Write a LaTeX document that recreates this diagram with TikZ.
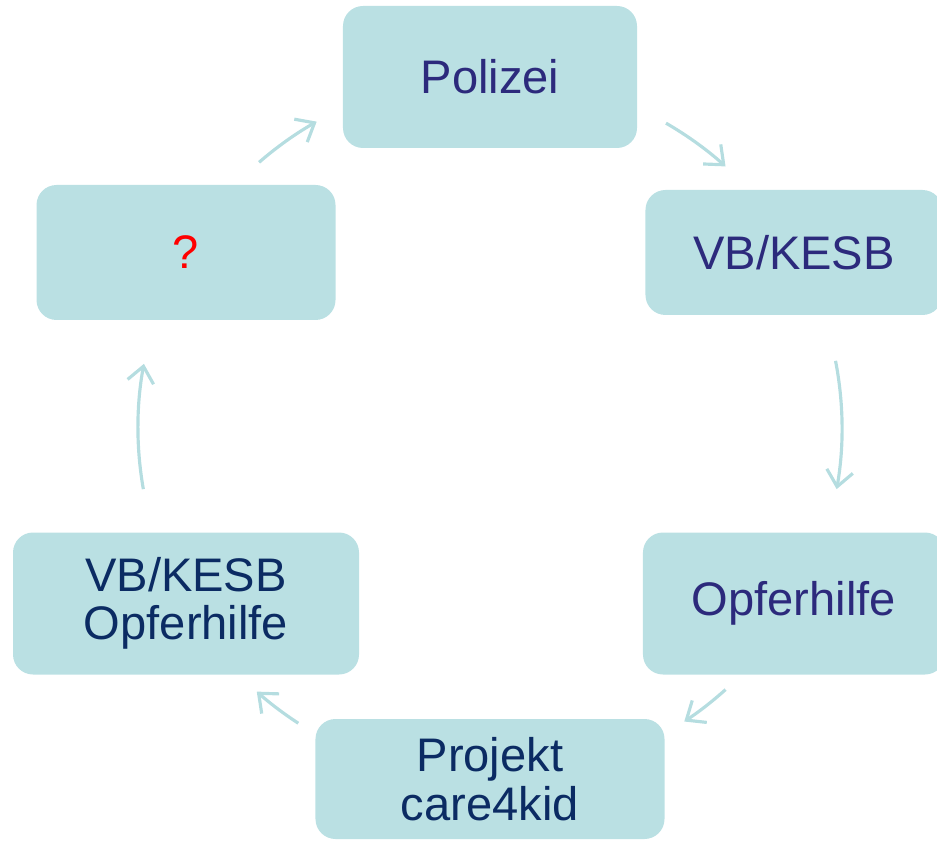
\documentclass[tikz,border=0pt]{standalone}
\usepackage{fontspec}
\setmainfont{Liberation Sans}
\usepackage{xcolor}
\usetikzlibrary{arrows.meta}

\definecolor{boxfill}{HTML}{BAE0E3}
\definecolor{arrowcol}{HTML}{B5DDE0}
\definecolor{textpurple}{HTML}{2C2A7C}
\definecolor{textnavy}{HTML}{0B2B63}

\tikzset{
  stagebox/.style={fill=boxfill, rounded corners=0.4cm, align=center,
    font=\fontsize{26.8}{27.5}\selectfont, inner sep=0pt},
  cyclearrow/.style={draw=arrowcol, line width=1.8pt,
    -{Straight Barb[length=9pt,width=15pt,line width=1.8pt]}}
}

\begin{document}
\begin{tikzpicture}
            \useasboundingbox (-9.80,8.56) rectangle (8.94,-8.24);
            \def \radius {7.04cm}
            \def \noderad {7.02cm}

            \node[stagebox, text=textpurple, minimum width=5.88cm, minimum height=2.84cm]
              (pol) at (90:\noderad) {Polizei};
            \node[stagebox, text=textpurple, minimum width=5.94cm, minimum height=2.5cm]
              (vb) at (30:\noderad) {VB/KESB};
            \node[stagebox, text=textpurple, minimum width=6.04cm, minimum height=2.84cm]
              (opf) at (-30:\noderad) {Opferhilfe};
            \node[stagebox, text=textnavy, minimum width=6.98cm, minimum height=2.4cm]
              (proj) at (-90:\noderad) {Projekt\\care4kid};
            \node[stagebox, text=textnavy, minimum width=6.92cm, minimum height=2.84cm]
              (vbopf) at (210:\noderad) {VB/KESB\\Opferhilfe};
            \node[stagebox, text=red, minimum width=5.98cm, minimum height=2.7cm]
              (ask) at (150:\noderad) {?};

            % arrow starts on the circle
            \coordinate (s1) at (60:\radius);
            \coordinate (s2) at (11:\radius);
            \coordinate (s3) at (-48:\radius);
            \coordinate (s4) at (237:\radius);
            \coordinate (s5) at (190:\radius);
            \coordinate (s6) at (131:\radius);

            \draw[cyclearrow] (s1) arc (60:48:\radius);
            \draw[cyclearrow] (s2) arc (11:-10:\radius);
            \draw[cyclearrow] (s3) arc (-48:-56.5:\radius);
            \draw[cyclearrow] (s4) arc (237:228.5:\radius);
            \draw[cyclearrow] (s5) arc (190:169.5:\radius);
            \draw[cyclearrow] (s6) arc (131:119.5:\radius);
          \end{tikzpicture}
\end{document}
